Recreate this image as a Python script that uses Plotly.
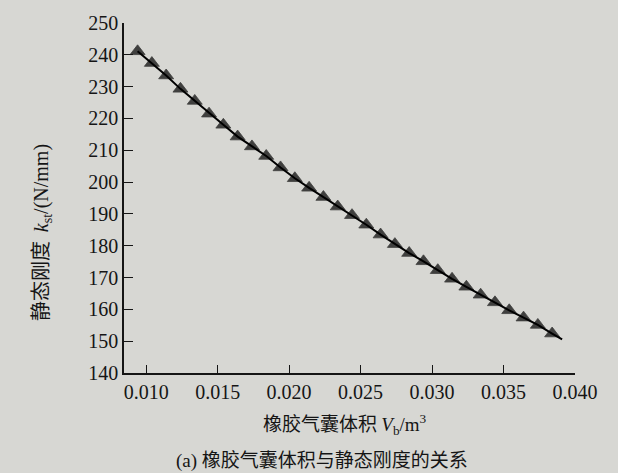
import plotly.graph_objects as go

# Data
volume_m3 = [0.0094, 0.0104, 0.0114, 0.0124, 0.0134, 0.0144, 0.0154, 0.0164, 0.0174, 0.0184,
             0.0194, 0.0204, 0.0214, 0.0224, 0.0234, 0.0244, 0.0254, 0.0264, 0.0274, 0.0284,
             0.0294, 0.0304, 0.0314, 0.0324, 0.0334, 0.0344, 0.0354, 0.0364, 0.0374, 0.0384,
             0.0391]
stiffness_n_per_mm = [241.1, 237.4, 233.5, 229.3, 225.5, 221.5, 218.0, 214.3, 211.2, 208.2,
                      204.6, 201.2, 198.2, 195.3, 192.3, 189.6, 186.6, 183.5, 180.5, 177.7,
                      175.1, 172.3, 169.6, 167.1, 164.6, 162.2, 159.7, 157.4, 155.1, 152.4,
                      150.6]
marker_sizes = [13] * 30 + [0]

x_ticks = [0.010, 0.015, 0.020, 0.025, 0.030, 0.035, 0.040]
x_tick_labels = ["0.010", "0.015", "0.020", "0.025", "0.030", "0.035", "0.040"]
y_ticks = [140, 150, 160, 170, 180, 190, 200, 210, 220, 230, 240, 250]

bg = "#d7d7d3"
ink = "#000000"
serif = "Liberation Serif"
cjk = "Noto Sans CJK SC"


def sf(t):
    return '<span style="font-family:Liberation Serif">' + t + '</span>'


fig = go.Figure()
fig.add_trace(go.Scatter(
    x=volume_m3, y=stiffness_n_per_mm,
    mode="lines+markers",
    line=dict(color=ink, width=2),
    marker=dict(symbol="triangle-up", size=marker_sizes, color=ink,
                line=dict(width=0.8, color=ink)),
    showlegend=False,
))

fig.update_layout(
    width=618, height=473,
    margin=dict(l=124, r=43, t=23, b=100),
    paper_bgcolor=bg, plot_bgcolor=bg,
    font=dict(family=serif, size=20, color="#151515"),
    xaxis=dict(
        range=[0.00845, 0.040], tickvals=x_ticks, ticktext=x_tick_labels,
        ticks="inside", ticklen=8, tickwidth=1.3, tickcolor="#151515",
        showline=True, linecolor="#151515", linewidth=1.5,
        showgrid=False, zeroline=False,
        tickfont=dict(family=serif, size=20, color="#151515"),
    ),
    yaxis=dict(
        range=[140, 250], tickvals=y_ticks,
        ticks="inside", ticklen=9, tickwidth=1.3, tickcolor="#151515",
        showline=True, linecolor="#151515", linewidth=1.5,
        showgrid=False, zeroline=False,
        tickfont=dict(family=serif, size=20, color="#151515"),
    ),
    annotations=[
        dict(text="橡胶气囊体积 " + sf("<i>V</i><sub>b</sub>/m<sup>3</sup>"),
             xref="paper", yref="paper", x=0.49, y=-0.145, xanchor="center", yanchor="middle",
             showarrow=False, font=dict(family=cjk, size=19, color="#151515")),
        dict(text=sf("(a) ") + "橡胶气囊体积与静态刚度的关系",
             xref="paper", yref="paper", x=0.44, y=-0.245, xanchor="center", yanchor="middle",
             showarrow=False, font=dict(family=cjk, size=19, color="#151515")),
        dict(text="静态刚度  " + sf("<i>k</i><sub>st</sub>/(N/mm)"),
             xref="paper", yref="paper", x=-0.186, y=0.40, xanchor="center", yanchor="middle",
             textangle=-90, showarrow=False, font=dict(family=cjk, size=20, color="#151515")),
    ],
)

fig.write_html("out.html", config={"displayModeBar": False},
               post_script="document.body.style.margin='0';document.body.style.padding='0';")
